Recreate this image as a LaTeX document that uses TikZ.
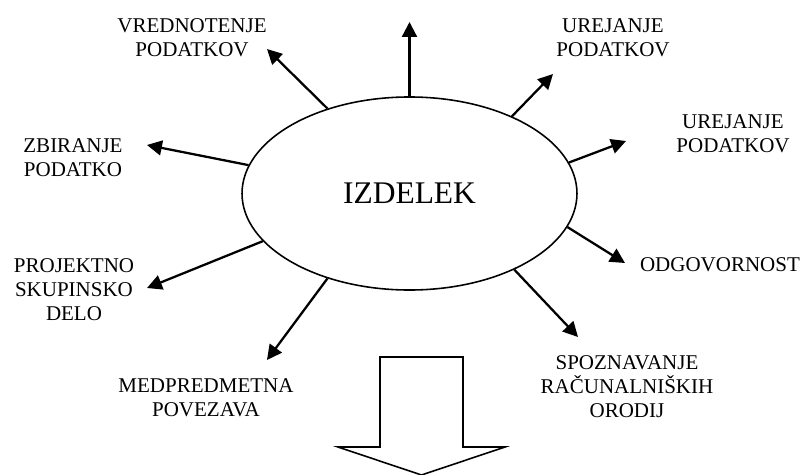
\documentclass[tikz,border=0pt]{standalone}
\usepackage{fontspec}
\setmainfont{Liberation Serif}
\usetikzlibrary{arrows.meta,shapes.geometric}
\begin{document}
\begin{tikzpicture}[x=0.5714pt,y=-0.5714pt,
  lbl/.style={align=center,inner sep=0pt,font=\fontsize{12}{13.7}\selectfont},
  spoke/.style={line width=1.3pt,-{Triangle[length=8.5pt,width=8.5pt]}},
  hollow/.style={line width=0.9pt,line join=miter}]
\useasboundingbox (0,0) rectangle (803,475);
\node[ellipse,draw,line width=0.9pt,minimum width=191.4pt,minimum height=110.3pt,inner sep=0pt,
  font=\fontsize{18}{20}\selectfont] (izd) at (409.5,193.5) {IZDELEK};
% labels
\node[lbl] (l1) at (192,37.5) {VREDNOTENJE\\PODATKOV};
\node[lbl] (l2) at (73,158) {ZBIRANJE\\PODATKO};
\node[lbl] (l3) at (613,37.5) {UREJANJE\\PODATKOV};
\node[lbl] (l4) at (733,133.5) {UREJANJE\\PODATKOV};
\node[lbl] (l5) at (720,265) {ODGOVORNOST};
\node[lbl] (l6) at (627,386.5) {SPOZNAVANJE\\RAČUNALNIŠKIH\\ORODIJ};
\node[lbl] (l7) at (206,397.5) {MEDPREDMETNA\\POVEZAVA};
\node[lbl] (l8) at (74,289.5) {PROJEKTNO\\SKUPINSKO\\DELO};
% arrow tips
\coordinate (t1) at (267,49);
\coordinate (t2) at (147,145);
\coordinate (t3) at (409.5,22);
\coordinate (t4) at (553,74);
\coordinate (t5) at (626,141);
\coordinate (t6) at (625,263);
\coordinate (t7) at (578,337);
\coordinate (t8) at (267,360);
\coordinate (t9) at (147,288);
% spokes
\draw[spoke] (izd.134.7) -- (t1);
\draw[spoke] (izd.170.3) -- (t2);
\draw[spoke] (izd.90) -- (t3);
\draw[spoke] (izd.37.1) -- (t4);
\draw[spoke] (izd.11.9) -- (t5);
\draw[spoke] (izd.-12) -- (t6);
\draw[spoke] (izd.-36.7) -- (t7);
\draw[spoke] (izd.-134) -- (t8);
\draw[spoke] (izd.-162.4) -- (t9);
% big hollow arrow
\draw[hollow] (380,357) -- (463,357) -- (463,447) -- (505,447) -- (421.5,475) -- (338,447) -- (380,447) -- cycle;
\end{tikzpicture}
\end{document}
